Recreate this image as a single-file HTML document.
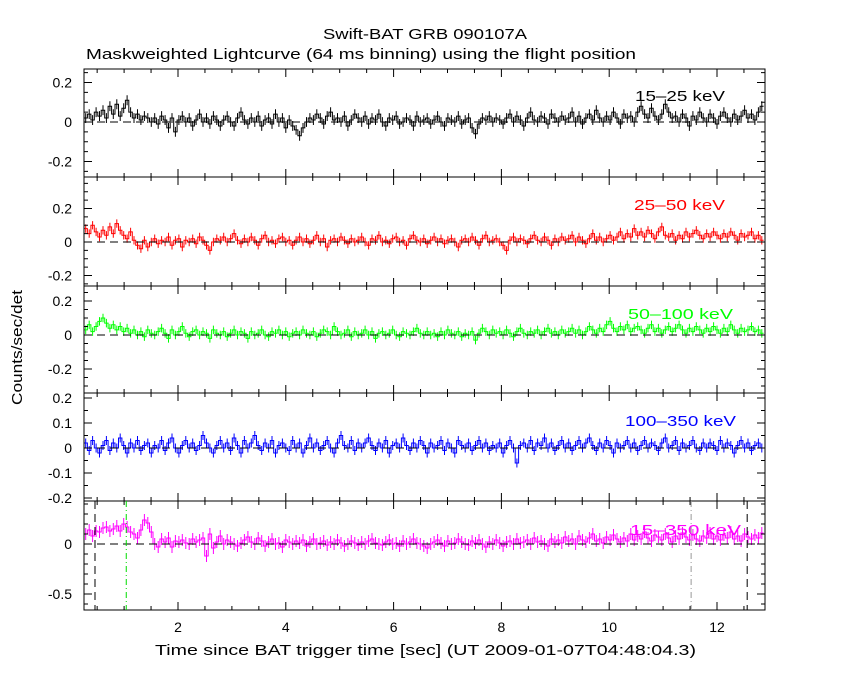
<!DOCTYPE html>
<html><head><meta charset="utf-8"><style>
body{margin:0;background:#fff;}
svg{display:block;font-family:"Liberation Sans",sans-serif;}
</style></head><body>
<svg id="chart" width="850" height="680" xmlns="http://www.w3.org/2000/svg">
<rect width="850" height="680" fill="#fff"/>
<text x="323" y="39" font-size="15" textLength="204" lengthAdjust="spacingAndGlyphs">Swift-BAT GRB 090107A</text>
<text x="86" y="59" font-size="15" textLength="550" lengthAdjust="spacingAndGlyphs">Maskweighted Lightcurve (64 ms binning) using the flight position</text>
<text transform="translate(22,405) rotate(-90)" font-size="15" textLength="115" lengthAdjust="spacingAndGlyphs">Counts/sec/det</text>
<text x="155" y="655" font-size="15" textLength="541" lengthAdjust="spacingAndGlyphs">Time since BAT trigger time [sec] (UT 2009-01-07T04:48:04.3)</text>
<g id="g"></g>
</svg>
<script>
const binStart = 0.256, binWidth = 0.064;
const xTicks = [2,4,6,8,10,12];
const bandLabels = ["15–25 keV","25–50 keV","50–100 keV","100–350 keV","15–350 keV"];
const s1 = [0.02,0.04,0.01,0.05,0.03,0.06,0.02,0.08,0.04,0.09,0.03,0.07,0.11,0.05,0.02,0.04,0.01,0.03,0.02,0.00,
0.02,-0.01,0.03,0.01,-0.03,0.02,-0.05,0.01,0.03,0.00,0.02,-0.02,0.01,0.04,0.00,0.02,-0.01,0.03,0.01,-0.02,
0.01,0.03,0.00,-0.02,0.02,0.05,0.01,-0.01,0.02,0.00,0.03,-0.02,0.01,0.02,-0.01,0.04,0.00,0.02,-0.03,0.01,
-0.02,-0.04,-0.07,-0.03,0.00,0.02,0.01,0.04,0.02,-0.01,0.03,0.05,0.01,0.02,0.00,0.03,-0.02,0.01,0.04,0.02,
0.00,0.03,-0.01,0.02,0.01,0.04,0.00,-0.02,0.02,0.01,0.03,-0.01,0.00,0.02,0.01,-0.02,0.03,0.00,0.01,0.02,
-0.01,0.01,0.03,0.00,-0.02,0.02,0.01,0.00,0.03,-0.01,0.01,0.02,-0.03,-0.06,-0.01,0.02,0.01,0.03,0.00,0.02,
0.01,-0.01,0.02,0.04,0.00,0.03,0.01,-0.02,0.02,0.05,0.01,0.00,0.03,0.02,-0.01,0.04,0.02,0.00,0.03,0.01,
0.02,0.05,0.00,0.03,-0.01,0.02,0.04,0.01,0.06,0.02,0.00,0.03,0.01,0.05,0.02,-0.01,0.04,0.02,0.03,0.00,
0.05,0.08,0.04,0.02,0.07,0.03,0.01,0.04,0.09,0.05,0.02,0.03,0.00,0.04,0.02,-0.02,0.03,0.01,0.05,0.02,
0.00,0.04,0.02,-0.01,0.03,0.05,0.02,0.00,0.04,0.01,0.03,0.06,0.02,0.04,0.01,0.05,0.08];
const s2 = [0.08,0.05,0.10,0.06,0.03,0.07,0.04,0.09,0.05,0.11,0.07,0.04,0.02,0.06,0.01,-0.02,-0.04,0.01,-0.03,0.00,
0.02,-0.01,0.01,0.00,0.03,-0.02,0.01,0.02,-0.03,0.01,0.00,0.02,-0.01,0.03,0.01,-0.02,-0.05,0.00,0.02,0.01,
0.03,0.00,0.02,0.05,0.01,-0.01,0.02,0.00,0.03,0.01,-0.02,0.02,0.04,0.00,0.01,-0.01,0.02,0.03,0.00,0.01,
-0.02,0.01,0.03,0.00,0.02,-0.01,0.01,0.04,0.00,0.02,-0.03,0.01,0.02,0.00,0.03,0.01,-0.01,0.02,0.00,0.01,
0.03,0.00,-0.02,0.02,0.01,0.04,0.00,0.01,-0.01,0.02,0.03,0.00,0.01,-0.02,0.02,0.04,0.01,0.00,0.02,-0.01,
0.01,0.03,0.00,0.02,-0.01,0.01,0.02,0.00,-0.03,0.01,0.02,0.00,0.03,0.01,-0.02,0.02,0.04,0.00,0.01,0.02,
0.00,-0.02,-0.05,0.01,0.03,0.00,0.02,0.01,-0.01,0.02,0.04,0.01,0.00,0.03,0.01,-0.02,0.02,0.00,0.03,0.01,
0.02,0.04,0.00,0.03,0.01,-0.01,0.02,0.05,0.01,0.03,0.00,0.02,0.04,0.01,0.03,0.06,0.02,0.05,0.03,0.08,
0.04,0.06,0.03,0.07,0.05,0.02,0.06,0.09,0.04,0.03,0.05,0.01,0.04,0.02,0.06,0.03,0.05,0.07,0.04,0.02,
0.05,0.03,0.06,0.04,0.02,0.05,0.03,0.06,0.04,0.01,0.05,0.03,0.04,0.06,0.02,0.04,0.01];
const s3 = [0.03,0.06,0.02,0.05,0.08,0.10,0.07,0.04,0.06,0.03,0.05,0.02,0.04,0.01,0.03,0.00,0.02,-0.01,0.03,0.01,
0.00,0.02,0.04,0.01,-0.02,0.03,0.00,0.02,0.05,0.01,-0.01,0.02,0.03,0.00,0.02,0.01,-0.02,0.03,0.01,0.00,
0.02,-0.01,0.01,0.03,0.00,0.02,0.01,-0.02,0.02,0.00,0.01,0.03,0.00,-0.01,0.02,0.01,0.03,0.00,0.02,-0.01,
0.01,0.02,0.00,0.03,0.01,0.00,0.02,-0.01,0.01,0.03,0.02,0.00,0.05,0.02,0.00,0.01,0.03,-0.01,0.02,0.00,
0.01,0.03,0.00,0.02,-0.02,0.01,0.02,0.00,0.01,0.03,0.00,-0.01,0.02,0.01,0.00,0.02,0.04,0.01,0.00,0.02,
0.00,0.01,-0.01,0.02,0.00,0.03,0.01,0.00,0.02,-0.01,0.01,0.00,0.02,-0.03,0.01,0.04,0.02,0.00,0.03,0.01,
0.02,0.00,0.03,0.01,-0.01,0.02,0.04,0.01,0.00,0.02,0.01,0.03,0.00,0.02,0.04,0.01,0.02,0.00,0.03,0.01,
0.02,0.04,0.01,0.03,0.00,0.02,0.05,0.03,0.01,0.04,0.02,0.06,0.08,0.04,0.02,0.05,0.03,0.06,0.02,0.04,
0.05,0.03,0.01,0.04,0.06,0.02,0.04,0.01,0.03,0.05,0.02,0.04,0.06,0.03,0.01,0.04,0.02,0.05,0.03,0.01,
0.04,0.02,0.05,0.03,0.01,0.04,0.02,0.06,0.03,0.01,0.04,0.02,0.03,0.05,0.02,0.03,0.01];
const s4 = [0.02,-0.01,0.03,0.00,-0.02,0.01,0.03,-0.01,0.02,0.00,0.04,0.01,-0.02,0.02,0.00,0.03,-0.01,0.01,0.02,-0.02,
0.01,0.00,0.03,-0.01,0.02,0.04,0.00,-0.02,0.01,0.03,0.00,0.02,-0.01,0.01,0.05,0.02,0.00,-0.02,0.01,0.03,
0.00,0.02,-0.01,0.04,0.01,-0.02,0.03,0.00,0.02,0.05,0.01,-0.01,0.02,0.00,0.03,-0.02,0.01,0.02,0.00,-0.01,
0.03,0.00,0.02,-0.02,0.01,0.04,0.00,0.02,-0.01,0.01,0.03,0.00,-0.02,0.02,0.05,0.01,0.00,0.03,-0.01,0.02,
0.00,0.02,0.04,0.01,-0.01,0.02,0.00,0.03,-0.02,0.01,0.02,0.00,0.04,0.01,-0.01,0.02,0.00,0.03,0.01,-0.02,
0.02,0.00,0.01,0.03,-0.01,0.02,0.00,-0.02,0.03,0.01,0.00,0.02,-0.01,0.01,0.03,0.00,0.02,-0.01,0.01,0.00,
0.02,-0.02,0.01,0.03,0.00,-0.06,0.01,0.02,0.00,0.03,-0.01,0.02,0.01,0.04,0.00,0.02,-0.01,0.01,0.03,0.00,
0.02,-0.01,0.01,0.03,0.00,0.02,0.04,0.01,-0.01,0.02,0.00,0.03,0.01,-0.02,0.02,0.00,0.01,0.03,0.00,0.02,
-0.01,0.01,0.03,0.00,0.02,0.01,-0.01,0.02,0.04,0.00,0.01,0.03,-0.01,0.02,0.00,0.01,0.03,0.00,-0.01,0.02,
0.00,0.02,0.01,-0.01,0.03,0.00,0.02,0.01,-0.02,0.01,0.03,0.00,0.02,-0.01,0.01,0.02,0.00];
const s5 = [0.10,0.14,0.08,0.13,0.12,0.16,0.17,0.13,0.15,0.18,0.13,0.20,0.17,0.12,0.10,0.06,0.14,0.24,0.21,0.12,
0.00,-0.03,0.05,0.02,0.06,-0.03,0.03,0.02,0.04,0.01,0.00,0.05,0.02,0.04,0.06,-0.12,0.10,-0.04,0.02,0.08,
0.00,0.04,0.02,0.00,-0.02,0.01,0.04,0.07,0.02,0.00,0.06,0.03,-0.02,0.02,0.05,0.00,0.01,-0.03,0.04,0.02,
0.00,0.03,0.01,0.04,-0.02,0.02,0.05,0.00,0.01,0.03,-0.01,0.02,0.00,0.04,0.01,-0.02,0.00,0.03,0.01,-0.01,
0.02,0.00,0.03,0.05,0.01,0.00,-0.01,0.02,0.04,0.00,0.01,-0.02,0.03,0.00,0.02,0.05,0.01,0.00,-0.02,-0.04,
0.00,0.02,0.04,0.01,-0.02,0.03,0.00,0.01,0.05,0.02,0.00,-0.01,0.03,0.01,0.04,0.00,-0.03,0.02,0.00,0.04,
0.01,-0.02,0.02,0.03,0.00,0.05,0.01,0.02,0.04,0.00,0.06,0.02,0.03,0.00,-0.02,0.05,0.02,0.04,0.01,0.07,
0.03,0.05,0.00,0.08,0.04,0.02,0.06,0.10,0.03,0.05,0.01,0.07,0.04,0.09,0.05,0.02,0.06,0.03,0.10,0.04,
0.08,0.05,0.12,0.06,0.03,0.09,0.07,0.04,0.10,0.06,0.02,0.08,0.05,0.11,0.07,0.04,0.09,0.05,0.03,0.08,
0.06,0.11,0.05,0.08,0.04,0.09,0.06,0.12,0.05,0.08,0.03,0.10,0.07,0.05,0.09,0.06,0.11];
const seriesErr = [0.025,0.025,0.025,0.018,0.06];
const yTicks1 = [-0.2,0,0.2], yTicks2 = [-0.2,0,0.2], yTicks3 = [-0.2,0,0.2], yTicks4 = [-0.2,-0.1,0,0.1,0.2], yTicks5 = [-0.5,0];
const markerLines = [0.46, 12.56];
const slewLines = [1.04];
const endLines = [11.52];

const NS='http://www.w3.org/2000/svg';
const g=document.getElementById('g');
const L=84,R=765;
const xs=t=>70.2+53.9*t;
function el(tag,attrs){const e=document.createElementNS(NS,tag);for(const k in attrs)e.setAttribute(k,attrs[k]);g.appendChild(e);return e;}
const panels=[
 {top:69,bot:177,zero:122,scale:197.5,data:s1,ticks:yTicks1,minor:0.05,color:'#000',lx:635,lw:90,ly:101,name:'15-25'},
 {top:177,bot:286,zero:242,scale:167.5,data:s2,ticks:yTicks2,minor:0.05,color:'#ff0000',lx:634,lw:91,ly:210,name:'25-50'},
 {top:286,bot:393,zero:335,scale:170,data:s3,ticks:yTicks3,minor:0.05,color:'#00ff00',lx:628,lw:105,ly:319,name:'50-100'},
 {top:393,bot:501,zero:448,scale:250,data:s4,ticks:yTicks4,minor:0.05,color:'#0000ff',lx:625,lw:111,ly:426,name:'100-350'},
 {top:501,bot:610,zero:544,scale:100,data:s5,ticks:yTicks5,minor:0.1,color:'#ff00ff',lx:630,lw:111,ly:535,name:'15-350'}
];
panels.forEach((p,i)=>{
 const ys=v=>p.zero-v*p.scale;
 let d='';
 p.data.forEach((v,k)=>{const x0=xs(binStart+k*binWidth),x1=xs(binStart+(k+1)*binWidth);const y=ys(v);d+=(k?'L':'M')+x0.toFixed(1)+' '+y.toFixed(1)+'L'+x1.toFixed(1)+' '+y.toFixed(1);});
 let e='';
 p.data.forEach((v,k)=>{const xc=xs(binStart+(k+0.5)*binWidth);e+='M'+xc.toFixed(1)+' '+ys(v+seriesErr[i]).toFixed(1)+'V'+ys(v-seriesErr[i]).toFixed(1);});
 const cp=el('clipPath',{id:'c'+i});const cr=document.createElementNS(NS,'rect');cr.setAttribute('x',L);cr.setAttribute('y',p.top);cr.setAttribute('width',R-L);cr.setAttribute('height',p.bot-p.top);cp.appendChild(cr);
 const eb=el('path',{d:e,stroke:p.color,'stroke-width':1,fill:'none','clip-path':'url(#c'+i+')'});
 
 
 const ln=el('path',{d:d,stroke:p.color,'stroke-width':1,fill:'none','clip-path':'url(#c'+i+')'});
 
 
 const z=el('line',{x1:L,x2:R,y1:ys(0),y2:ys(0),stroke:'#000','stroke-dasharray':'8,5'});
 
 
 const fr=el('rect',{x:L,y:p.top,width:R-L,height:p.bot-p.top,fill:'none',stroke:'#000','stroke-width':1});
 
 
 let tk='';
 for(let t=0.5;t<=12.9;t+=0.5){const x=xs(t);if(x<L||x>R)continue;const len=(Math.abs(t-Math.round(t/2)*2)<1e-6)?8:4;tk+='M'+x+' '+p.bot+'v-'+len+'M'+x+' '+p.top+'v'+len;}
 const ymin=(p.zero-p.bot)/p.scale, ymax=(p.zero-p.top)/p.scale;
 for(let n=Math.ceil(ymin/p.minor);n*p.minor<=ymax;n++){const v=n*p.minor;const y=ys(v);const maj=p.ticks.some(t=>Math.abs(t-v)<1e-6);const len=maj?8:4;tk+='M'+L+' '+y+'h'+len+'M'+R+' '+y+'h-'+len;}
 const tp=el('path',{d:tk,stroke:'#000','stroke-width':1,fill:'none'});
 
 
 p.ticks.forEach(v=>{const t=el('text',{x:72,y:ys(v)+5,'font-size':14,'text-anchor':'end'});t.textContent=(v===0?'0':String(v));
  
  });
 const lb=el('text',{x:p.lx,y:p.ly,'font-size':15,fill:p.color,textLength:p.lw,lengthAdjust:'spacingAndGlyphs'});lb.textContent=bandLabels[i];
 
 
});
const P=panels[4];
markerLines.forEach(t=>{const l=el('line',{x1:xs(t),x2:xs(t),y1:P.top,y2:P.bot,stroke:'#000','stroke-dasharray':'8,5'});
 
 });
slewLines.forEach(t=>{const l=el('line',{x1:xs(t),x2:xs(t),y1:P.top,y2:P.bot,stroke:'#00dd00','stroke-dasharray':'6,3,1,3'});
 
 });
endLines.forEach(t=>{const l=el('line',{x1:xs(t),x2:xs(t),y1:P.top,y2:P.bot,stroke:'#999','stroke-dasharray':'6,3,1,3'});
 
 });
xTicks.forEach(t=>{const x=el('text',{x:xs(t),y:632,'font-size':14,'text-anchor':'middle'});x.textContent=t;
 
 });
</script>
</body></html>
